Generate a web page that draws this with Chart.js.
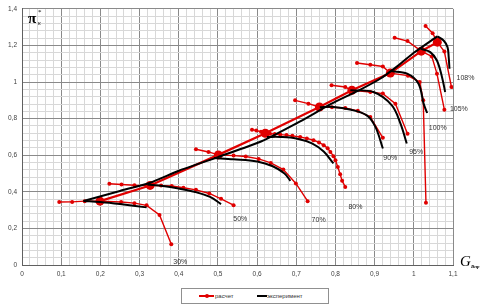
<!DOCTYPE html>
<html><head><meta charset="utf-8">
<script src="https://cdn.jsdelivr.net/npm/chart.js@4/dist/chart.umd.min.js"></script>
<style>
html,body{margin:0;padding:0;background:#fff;}
#wrap{position:relative;width:486px;height:306px;overflow:hidden;}
#c{position:absolute;left:0;top:0;}
.t{position:absolute;white-space:nowrap;line-height:1;}
#pi{left:28px;top:10px;font:bold 15px "Liberation Serif","Times New Roman",serif;}
#piS{left:38px;top:8px;font:7px "Liberation Serif",serif;}
#piK{left:38px;top:20px;font:italic 6px "Liberation Serif",serif;}
#G{left:460px;top:253px;font:italic 15px "Liberation Serif","Times New Roman",serif;}
#Gs{left:471px;top:264px;font:italic bold 5px "Liberation Serif",serif;}
#leg{position:absolute;left:181px;top:288px;width:148px;height:16px;border:1px solid #909090;box-sizing:border-box;background:#fff;}
.ln{position:absolute;height:2px;}
.lt{position:absolute;top:4px;font:6px "Liberation Sans",Arial,sans-serif;color:#333;}
.dot{position:absolute;width:4px;height:4px;border-radius:50%;background:#e00000;}
</style></head>
<body>
<div id="wrap">
<canvas id="c" width="486" height="306"></canvas>
<span class="t" id="pi">π</span><span class="t" id="piS">*</span><span class="t" id="piK">к</span>
<span class="t" id="G">G</span><span class="t" id="Gs">Впр</span>
<div id="leg">
  <div class="ln" style="left:17px;top:6px;width:15px;background:#e00000;"></div>
  <div class="dot" style="left:23px;top:5px;"></div>
  <span class="lt" style="left:33px;">расчет</span>
  <div class="ln" style="left:75px;top:6px;width:10px;background:#000;"></div>
  <span class="lt" style="left:85px;">эксперимент</span>
</div>
</div>
<script>
// ---- data (x = G_Впр, y = π*к) ----
const red30 = [[0.095,0.344],[0.128,0.345],[0.160,0.349],[0.199,0.349],[0.253,0.344],[0.287,0.338],[0.318,0.326],[0.351,0.273],[0.381,0.113]];
const red50 = [[0.223,0.444],[0.254,0.440],[0.287,0.436],[0.327,0.435],[0.355,0.434],[0.382,0.432],[0.412,0.422],[0.444,0.411],[0.478,0.391],[0.508,0.362],[0.540,0.327]];
const red70 = [[0.444,0.633],[0.476,0.618],[0.501,0.602],[0.540,0.598],[0.571,0.593],[0.604,0.580],[0.635,0.558],[0.667,0.522],[0.699,0.446],[0.729,0.349]];
const red80 = [[0.587,0.740],[0.598,0.735],[0.610,0.728],[0.621,0.720],[0.633,0.718],[0.645,0.716],[0.659,0.713],[0.675,0.710],[0.690,0.706],[0.710,0.700],[0.727,0.692],[0.744,0.682],[0.758,0.670],[0.770,0.655],[0.780,0.638],[0.787,0.618],[0.795,0.595],[0.800,0.573],[0.806,0.536],[0.812,0.496],[0.817,0.460],[0.825,0.427]];
const red90 = [[0.697,0.900],[0.731,0.882],[0.759,0.864],[0.791,0.862],[0.825,0.858],[0.857,0.843],[0.889,0.809],[0.921,0.695]];
const red95 = [[0.790,0.983],[0.825,0.973],[0.842,0.955],[0.889,0.946],[0.921,0.937],[0.953,0.882],[0.984,0.718]];
const red100 = [[0.855,1.104],[0.889,1.095],[0.921,1.085],[0.940,1.049],[0.985,1.035],[1.015,1.000],[1.024,0.900],[1.031,0.340]];
const red105 = [[0.951,1.242],[0.984,1.224],[1.019,1.169],[1.046,1.140],[1.059,1.046],[1.078,0.849]];
const red108 = [[1.030,1.306],[1.048,1.267],[1.060,1.218],[1.078,1.167],[1.096,0.973]];
const redLine = [[0.199,0.349],[0.327,0.435],[0.501,0.602],[0.621,0.720],[0.759,0.864],[0.842,0.955],[0.940,1.049],[1.019,1.169],[1.060,1.218]];

const blk30 = [[0.157,0.350],[0.200,0.344],[0.250,0.333],[0.318,0.315]];
const blk50 = [[0.320,0.440],[0.360,0.432],[0.400,0.418],[0.440,0.400],[0.480,0.372],[0.508,0.333]];
const blk70 = [[0.490,0.585],[0.540,0.578],[0.600,0.566],[0.640,0.540],[0.670,0.500],[0.685,0.460]];
const blk80 = [[0.625,0.700],[0.660,0.700],[0.700,0.692],[0.740,0.665],[0.770,0.620],[0.795,0.555]];
const blk90 = [[0.760,0.862],[0.790,0.865],[0.840,0.849],[0.880,0.818],[0.902,0.755],[0.921,0.637]];
const blk95 = [[0.838,0.955],[0.897,0.946],[0.944,0.873],[0.966,0.773],[0.982,0.664]];
const blk100 = [[0.940,1.060],[0.983,1.046],[1.012,0.991],[1.025,0.882],[1.034,0.831]];
const blk105 = [[1.018,1.182],[1.042,1.164],[1.059,1.118],[1.072,1.027],[1.080,0.946]];
const blk108 = [[1.060,1.250],[1.076,1.227],[1.086,1.191],[1.089,1.137],[1.091,1.073]];
const blkLine = [[0.157,0.350],[0.250,0.405],[0.327,0.450],[0.400,0.515],[0.500,0.590],[0.610,0.675],[0.710,0.785],[0.790,0.882],[0.860,0.955],[0.914,1.018],[0.960,1.090],[1.000,1.160],[1.060,1.250]];

const speedLabels = ["30%","50%","70%","80%","90%","95%","100%","105%","108%"];
const labelX = [0.404,0.557,0.757,0.851,0.940,1.006,1.061,1.115,1.132];
const labelY = [0.018,0.249,0.245,0.318,0.584,0.618,0.747,0.851,1.020];

const xTicks = []; for (let i = 0; i <= 55; i++) xTicks.push(Math.round(i*2)/100);
const yTicks = []; for (let i = 0; i <= 35; i++) yTicks.push(Math.round(i*4)/100);

const RED = '#e00000';
const pts = a => a.map(p => ({x:p[0], y:p[1]}));
const datasets = [];
[blk30,blk50,blk70,blk80,blk90,blk95,blk100,blk105,blk108].forEach(d => datasets.push({
  data: pts(d), showLine:true, borderColor:'#000', borderWidth:2, pointRadius:0, tension:0.35
}));
datasets.push({data: pts(blkLine), showLine:true, borderColor:'#000', borderWidth:2, pointRadius:0, tension:0.2});
[red30,red50,red70,red80,red90,red95,red100,red105,red108].forEach(d => datasets.push({
  data: pts(d), showLine:true, borderColor:RED, backgroundColor:RED, borderWidth:1.4, pointRadius:2, pointBorderWidth:0, tension:0
}));
datasets.push({data: pts(redLine), showLine:true, borderColor:RED, backgroundColor:RED, borderWidth:2.2, pointRadius:4.5, pointBorderWidth:0, tension:0});

const fmt = v => String(v).replace('.', ',');
const labelPlugin = {
  id:'speedLabels',
  afterDatasetsDraw(chart){
    const ctx = chart.ctx, xs = chart.scales.x, ys = chart.scales.y;
    ctx.save();
    ctx.font = '7px "Liberation Sans", Arial, sans-serif';
    ctx.fillStyle = '#333';
    ctx.textAlign = 'center'; ctx.textBaseline = 'middle';
    speedLabels.forEach((t,i) => ctx.fillText(t, xs.getPixelForValue(labelX[i]), ys.getPixelForValue(labelY[i])));
    ctx.restore();
  }
};

new Chart(document.getElementById('c'), {
  type:'scatter',
  data:{datasets},
  plugins:[labelPlugin],
  options:{
    responsive:false, animation:false,
    layout:{padding:{left:0, top:8, right:33, bottom:0}},
    plugins:{legend:{display:false}, tooltip:{enabled:false}},
    scales:{
      x:{
        type:'linear', min:0, max:1.1,
        afterBuildTicks: s => { s.ticks = xTicks.map(v => ({value:v})); },
        afterFit: s => { s.height = 41; },
        ticks:{autoSkip:false, maxRotation:0, padding:5, color:'#404040',
          font:{family:'"Liberation Sans", Arial, sans-serif', size:6.5},
          callback: v => (Math.round(v*100) % 10 === 0 ? fmt(Math.round(v*10)/10) : '')},
        grid:{drawTicks:false, lineWidth:1,
          color: c => (c.tick && Math.round(c.tick.value*100) % 10 === 0) ? '#8a8a8a' : '#d8d8d8'},
        border:{color:'#606060'}
      },
      y:{
        type:'linear', min:0, max:1.4,
        afterBuildTicks: s => { s.ticks = yTicks.map(v => ({value:v})); },
        afterFit: s => { s.width = 22; },
        ticks:{autoSkip:false, padding:5, color:'#404040',
          font:{family:'"Liberation Sans", Arial, sans-serif', size:6.5},
          callback: v => (Math.round(v*100) % 20 === 0 ? fmt(Math.round(v*10)/10) : '')},
        grid:{drawTicks:false, lineWidth:1,
          color: c => (c.tick && Math.round(c.tick.value*100) % 20 === 0) ? '#8a8a8a' : '#d8d8d8'},
        border:{color:'#606060'}
      }
    }
  }
});
</script>
</body></html>
